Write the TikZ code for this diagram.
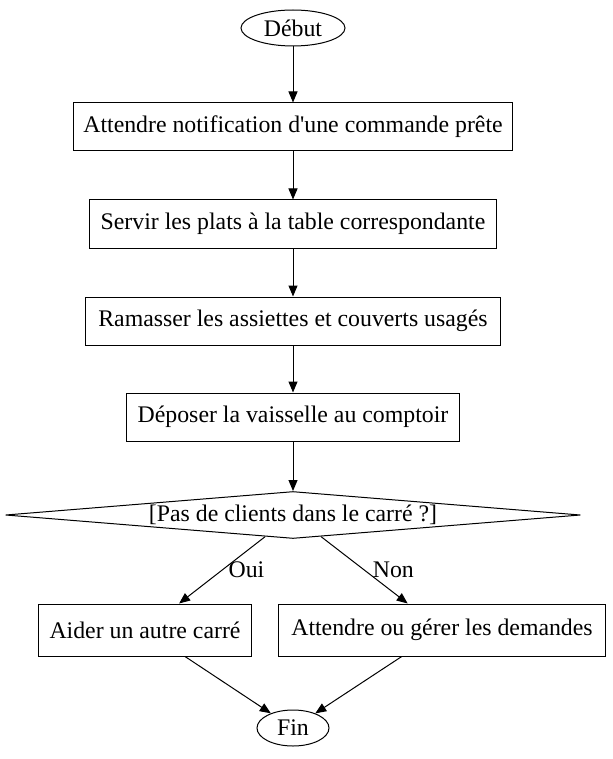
\documentclass[tikz,border=0pt]{standalone}
\usepackage{fontspec}
\setmainfont{Liberation Serif}[Ligatures=TeXOff]
\usetikzlibrary{shapes.geometric,arrows.meta}
\begin{document}
\begin{tikzpicture}[x=0.5pt,y=-0.5pt,
  font=\fontsize{11.9}{14.3}\selectfont,
  every node/.style={draw,line width=0.5pt},
  etape/.style={rectangle,minimum height=24pt,inner xsep=5.5pt},
  terminal/.style={ellipse,minimum height=18pt,inner sep=1pt},
  choix/.style={diamond,aspect=12,minimum width=287.5pt,minimum height=23.5pt,inner sep=0pt},
  lien/.style={-{Triangle[length=5.5pt,width=4.5pt]},line width=0.5pt},
  etiq/.style={draw=none,anchor=west,inner sep=3pt}]
\useasboundingbox (0,0) rectangle (613,759);

\node[terminal,minimum width=52pt] (debut) at (293,28) {Début};
\node[etape,inner xsep=5pt] (attente) at (293,127) {Attendre notification d'une commande prête};
\node[etape] (servir) at (293,224) {Servir les plats à la table correspondante};
\node[etape,inner xsep=6.5pt] (ramasser) at (293,321) {Ramasser les assiettes et couverts usagés};
\node[etape] (deposer) at (293,417) {Déposer la vaisselle au comptoir};
\node[choix] (test) at (293,515) {[Pas de clients dans le carré ?]};
\node[etape,minimum height=26pt] (aider) at (145,630) {Aider un autre carré};
\node[etape,minimum height=26pt,inner xsep=6.5pt] (gerer) at (442,630) {Attendre ou gérer les demandes};
\node[terminal,minimum width=36pt] (fin) at (293,728) {Fin};

\draw[lien] (debut) -- (attente);
\draw[lien] (attente) -- (servir);
\draw[lien] (servir) -- (ramasser);
\draw[lien] (ramasser) -- (deposer);
\draw[lien] (deposer) -- (test);
\draw[lien] (test) -- node[etiq,pos=0.5] {Oui} (aider);
\draw[lien] (test) -- node[etiq,pos=0.5,inner sep=4pt] {Non} (gerer);
\draw[lien] (aider) -- (fin);
\draw[lien] (gerer) -- (fin);
\end{tikzpicture}
\end{document}
